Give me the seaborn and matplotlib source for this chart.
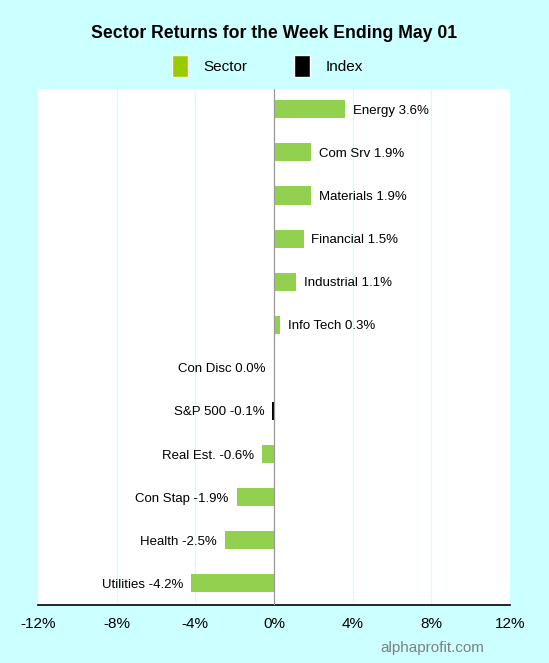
import pandas as pd
import matplotlib.pyplot as plt
import seaborn as sns
from matplotlib.patches import Patch

# Data
labels = ["Energy", "Com Srv", "Materials", "Financial", "Industrial", "Info Tech",
          "Con Disc", "S&P 500", "Real Est.", "Con Stap", "Health", "Utilities"]
returns = [3.6, 1.9, 1.9, 1.5, 1.1, 0.3, -0.02, -0.1, -0.6, -1.9, -2.5, -4.2]
shown = ["3.6%", "1.9%", "1.9%", "1.5%", "1.1%", "0.3%", "0.0%", "-0.1%",
         "-0.6%", "-1.9%", "-2.5%", "-4.2%"]
kinds = ["Sector"] * 7 + ["Index"] + ["Sector"] * 4
xticks = [-12, -8, -4, 0, 4, 8, 12]

df = pd.DataFrame({"label": labels, "ret": returns, "kind": kinds})

sns.set_style("white")
plt.rcParams["font.family"] = ["Liberation Sans", "DejaVu Sans"]
plt.rcParams["text.color"] = "black"
plt.rcParams["xtick.color"] = "black"

bg = "#ccffff"
fig = plt.figure(figsize=(5.49, 6.63), dpi=100, facecolor=bg)
ax = fig.add_axes([0.0692, 0.0875, 0.8598, 0.7783])
ax.set_facecolor("white")

sns.barplot(data=df, x="ret", y="label", hue="kind",
            palette={"Sector": "#92d050", "Index": "#000000"},
            dodge=False, width=0.42, saturation=1, linewidth=0,
            legend=False, ax=ax, orient="h", zorder=3)

ax.set_xlim(-12, 12)
ax.set_ylim(11.5, -0.47)
ax.set_xticks(xticks)
ax.set_xticklabels([f"{t}%" for t in xticks], fontsize=11)
ax.set_yticks([])
ax.set_xlabel("")
ax.set_ylabel("")

for t in xticks:
    if t == 0:
        ax.axvline(0, color="#999999", lw=0.9, zorder=4)
    elif abs(t) < 12:
        ax.axvline(t, color=bg, lw=0.9, zorder=1)

for sp in ["left", "right", "top"]:
    ax.spines[sp].set_visible(False)
ax.spines["bottom"].set_color("black")
ax.spines["bottom"].set_linewidth(1.2)
ax.tick_params(axis="x", direction="out", length=5, width=1.2, color="black", pad=4)

for i, (name, v, s) in enumerate(zip(labels, returns, shown)):
    text = f"{name} {s}"
    if v > 0:
        ax.text(v + 0.4, i, text, ha="left", va="center_baseline", fontsize=9.5)
    else:
        ax.text(v - 0.4, i, text, ha="right", va="center_baseline", fontsize=9.5)

fig.text(0.5, 0.949, "Sector Returns for the Week Ending May 01",
         ha="center", va="center", fontsize=12.7, fontweight="bold")

handles = [Patch(facecolor="#99cc00", label="Sector"),
           Patch(facecolor="#000000", label="Index")]
fig.legend(handles=handles, loc="center", bbox_to_anchor=(0.487, 0.9),
           ncol=2, frameon=False, fontsize=11, handlelength=1.1, handleheight=1.8,
           columnspacing=3.0, handletextpad=1.0)

fig.text(0.882, 0.022, "alphaprofit.com", ha="right", va="center",
         fontsize=11, color="#808080")

fig.savefig("out.png", dpi=100, facecolor=bg)
